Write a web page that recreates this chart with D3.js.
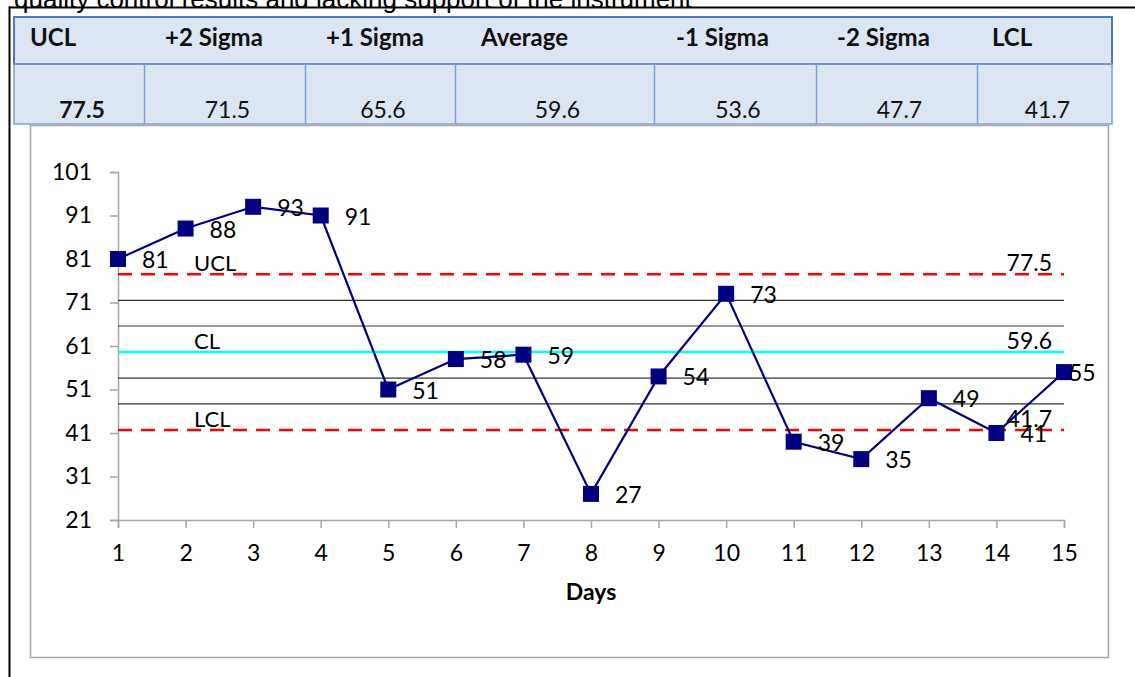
<!DOCTYPE html>
<html>
<head>
<meta charset="utf-8">
<script src="https://cdn.jsdelivr.net/npm/d3@7"></script>
<style>
  html, body { margin: 0; padding: 0; background: #fff; overflow: hidden; }
  svg { display: block; }
  text { font-family: Lato, "Open Sans", sans-serif; }
</style>
</head>
<body>
<svg id="chart" width="1135" height="677"></svg>
<script>
// Daily QC results
const days = [1, 2, 3, 4, 5, 6, 7, 8, 9, 10, 11, 12, 13, 14, 15];
const results = [81, 88, 93, 91, 51, 58, 59, 27, 54, 73, 39, 35, 49, 41, 55];

// Control limits (table header and values)
const limitNames = ["UCL", "+2 Sigma", "+1 Sigma", "Average", "-1 Sigma", "-2 Sigma", "LCL"];
const limitValues = [77.5, 71.5, 65.6, 59.6, 53.6, 47.7, 41.7];
const limitText = ["77.5", "71.5", "65.6", "59.6", "53.6", "47.7", "41.7"];

const yTicks = [21, 31, 41, 51, 61, 71, 81, 91, 101];

const svg = d3.select("#chart");

// Caption line above the table, partly cut off at the top edge
svg.append("text")
  .attr("x", 14).attr("y", 8)
  .attr("font-size", 26)
  .attr("fill", "#000")
  .style("font-family", "'Liberation Sans', Arial, sans-serif")
  .text("quality control results and lacking support of the instrument");

// Outer frame
svg.append("line").attr("x1", 9).attr("x2", 1135).attr("y1", 7.5).attr("y2", 7.5)
  .attr("stroke", "#000").attr("stroke-width", 2);
svg.append("line").attr("x1", 9.5).attr("x2", 9.5).attr("y1", 6.5).attr("y2", 677)
  .attr("stroke", "#000").attr("stroke-width", 2);

// Limits table
const tbl = { x: 14, y: 17, w: 1098, h1: 47, h2: 60 };
const colEdges = [14, 144, 305, 455, 654, 816, 977, 1112];
const headerX = [30, 165, 326, 481, 676, 837, 992];

svg.append("rect")
  .attr("x", tbl.x).attr("y", tbl.y).attr("width", tbl.w).attr("height", tbl.h1 + tbl.h2)
  .attr("fill", "#dce6f2");

const tg = svg.append("g");
headerX.forEach((x, i) => {
  tg.append("text")
    .attr("x", x).attr("y", tbl.y + 29)
    .attr("font-size", 24).attr("font-weight", "bold").attr("fill", "#111")
    .text(limitNames[i]);
});
for (let i = 0; i < 7; i++) {
  const cx = (colEdges[i] + colEdges[i + 1]) / 2;
  tg.append("text")
    .attr("x", cx + 3).attr("y", 118)
    .attr("text-anchor", "middle")
    .attr("font-size", 23).attr("font-weight", i === 0 ? "bold" : "normal").attr("fill", "#111")
    .text(limitText[i]);
}
// inner column borders (value row only)
colEdges.slice(1, -1).forEach(x => {
  svg.append("line").attr("x1", x + 0.5).attr("x2", x + 0.5)
    .attr("y1", tbl.y + tbl.h1).attr("y2", tbl.y + tbl.h1 + tbl.h2)
    .attr("stroke", "#7f9fd3").attr("stroke-width", 1.5);
});
svg.append("rect")
  .attr("x", tbl.x).attr("y", tbl.y).attr("width", tbl.w).attr("height", tbl.h1)
  .attr("fill", "none").attr("stroke", "#4a78c2").attr("stroke-width", 2);
svg.append("rect")
  .attr("x", tbl.x).attr("y", tbl.y + tbl.h1).attr("width", tbl.w).attr("height", tbl.h2)
  .attr("fill", "none").attr("stroke", "#7f9fd3").attr("stroke-width", 1.5);

// Chart frame
svg.append("rect")
  .attr("x", 30.5).attr("y", 125.5).attr("width", 1078).attr("height", 532)
  .attr("fill", "none").attr("stroke", "#a6a6a6").attr("stroke-width", 1.5);

// Scales
const x = d3.scaleLinear().domain([1, 15]).range([118, 1064]);
const y = d3.scaleLinear().domain([21, 101]).range([520, 172]);

const tickFont = "Lato, 'Open Sans', sans-serif";

// Y axis
const yAxis = svg.append("g").attr("transform", `translate(${x(1)},0)`)
  .call(d3.axisLeft(y).tickValues(yTicks).tickSize(8).tickPadding(18).tickFormat(d3.format("d")));
yAxis.select(".domain").attr("stroke", "#a6a6a6").attr("stroke-width", 1.5);
yAxis.selectAll(".tick line").attr("stroke", "#a6a6a6").attr("stroke-width", 1.5);
yAxis.selectAll(".tick text").attr("font-size", 23).attr("fill", "#000")
  .style("font-family", tickFont);

// X axis
const xAxis = svg.append("g").attr("transform", `translate(0,${y(21)})`)
  .call(d3.axisBottom(x).tickValues(days).tickSize(8).tickPadding(17).tickFormat(d3.format("d")));
xAxis.select(".domain").attr("stroke", "#a6a6a6").attr("stroke-width", 1.5);
xAxis.selectAll(".tick line").attr("stroke", "#a6a6a6").attr("stroke-width", 1.5);
xAxis.selectAll(".tick text").attr("font-size", 23).attr("fill", "#000")
  .style("font-family", tickFont);

svg.append("text")
  .attr("x", 591).attr("y", 600).attr("text-anchor", "middle")
  .attr("font-size", 23).attr("font-weight", "bold").text("Days");

// Control lines
const lineStyle = [
  { stroke: "#ff0000", dash: "14,9", width: 2.5 },
  { stroke: "#333", dash: null, width: 1.2 },
  { stroke: "#333", dash: null, width: 1.2 },
  { stroke: "#00ffff", dash: null, width: 2.5 },
  { stroke: "#333", dash: null, width: 1.2 },
  { stroke: "#333", dash: null, width: 1.2 },
  { stroke: "#ff0000", dash: "14,9", width: 2.5 }
];
limitValues.forEach((v, i) => {
  const s = lineStyle[i];
  svg.append("line")
    .attr("x1", x(1)).attr("x2", x(15))
    .attr("y1", y(v)).attr("y2", y(v))
    .attr("stroke", s.stroke).attr("stroke-width", s.width)
    .attr("stroke-dasharray", s.dash);
});

// Left-hand line names and right-hand limit values
const named = [
  { name: "UCL", idx: 0 },
  { name: "CL", idx: 3 },
  { name: "LCL", idx: 6 }
];
named.forEach(n => {
  const v = limitValues[n.idx];
  svg.append("text").attr("x", 194).attr("y", y(v) - 3)
    .attr("font-size", 22).attr("fill", "#000").text(n.name);
  svg.append("text").attr("x", 1052).attr("y", y(v) - 3)
    .attr("text-anchor", "end")
    .attr("font-size", 23).attr("fill", "#000").text(limitText[n.idx]);
});

// Results line
const pts = days.map((d, i) => ({ d, v: results[i] }));
svg.append("path")
  .datum(pts)
  .attr("fill", "none").attr("stroke", "#000080").attr("stroke-width", 2.2)
  .attr("d", d3.line().x(p => x(p.d)).y(p => y(p.v)));

const ms = 16;
svg.selectAll("rect.pt").data(pts).enter().append("rect")
  .attr("class", "pt")
  .attr("x", p => x(p.d) - ms / 2).attr("y", p => y(p.v) - ms / 2)
  .attr("width", ms).attr("height", ms)
  .attr("fill", "#000080");

// Value labels to the right of each point, kept inside the plot frame
svg.selectAll("text.lbl").data(pts).enter().append("text")
  .attr("class", "lbl")
  .attr("x", p => Math.min(x(p.d) + 24, 1069)).attr("y", p => y(p.v) + 9)
  .attr("font-size", 23).attr("fill", "#000")
  .text(p => p.v);
</script>
</body>
</html>
